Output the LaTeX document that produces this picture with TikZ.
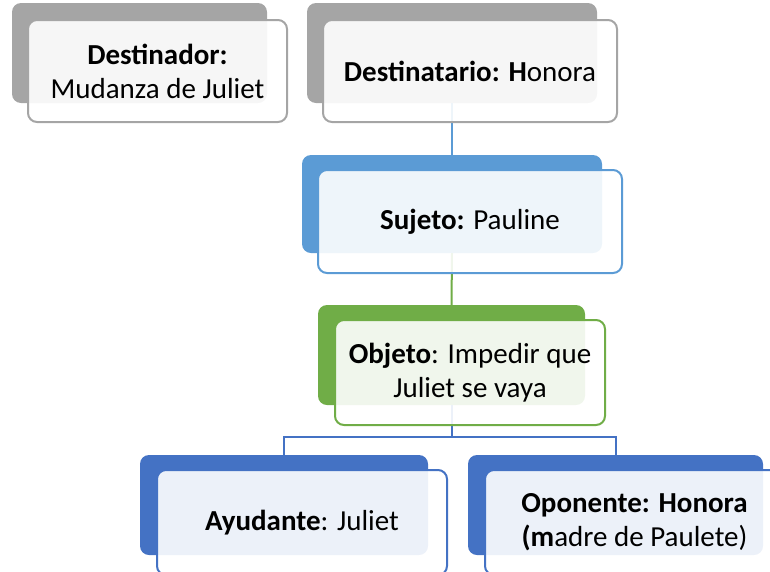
\documentclass[tikz,border=0pt]{standalone}
\usepackage{fontspec}
\setmainfont{Carlito}
\definecolor{cgray}{HTML}{A5A5A5}
\definecolor{cltblue}{HTML}{5B9BD5}
\definecolor{cgreen}{HTML}{70AD47}
\definecolor{cblue}{HTML}{4472C4}
\tikzset{
  backbox/.style={rectangle, rounded corners=9pt, inner sep=0pt, fill=#1},
  frontbox/.style={rectangle, rounded corners=9pt, inner sep=0pt, draw=#1, line width=2pt,
     fill=white, fill opacity=0.9, text opacity=1, align=center,
     font=\fontsize{29}{34}\selectfont},
  conn/.style={line width=2pt, draw=#1}
}
\begin{document}
\begin{tikzpicture}[x=1pt,y=-1pt]
\useasboundingbox (0,0) rectangle (770,571);
\clip (0,0) rectangle (770,571);
% back boxes
\node[backbox=cgray, minimum width=255pt, minimum height=100pt] (b1) at (139.5,53) {};
\node[backbox=cgray, minimum width=290pt, minimum height=100pt] (b2) at (452,53) {};
\node[backbox=cltblue, minimum width=300pt, minimum height=98pt] (b3) at (452,204) {};
\node[backbox=cgreen, minimum width=267pt, minimum height=100pt] (b4) at (451.5,355) {};
\node[backbox=cblue, minimum width=288pt, minimum height=100pt] (b5) at (284,505) {};
\node[backbox=cblue, minimum width=295pt, minimum height=100pt] (b6) at (615.5,505) {};
% connectors
\coordinate (m) at (451.5,437);
\draw[conn=cltblue] (b2.south) -- (b3.north);
\draw[conn=cgreen] (b3.south) -- (b4.north);
\draw[conn=cblue] (b4.south) -- (m) -| (b5.north);
\draw[conn=cblue] (m) -| (b6.north);
% front boxes
\node[frontbox=cgray, minimum width=259pt, minimum height=102pt] (f1) at (157.5,71) {\textbf{Destinador:}\\Mudanza de Juliet};
\node[frontbox=cgray, minimum width=294pt, minimum height=102pt] (f2) at (470,71) {\textbf{Destinatario: H}onora};
\node[frontbox=cltblue, minimum width=304pt, minimum height=103pt] (f3) at (470,221.5) {\textbf{Sujeto:} Pauline};
\node[frontbox=cgreen, minimum width=270pt, minimum height=105pt] (f4) at (470,372.5) {\textbf{Objeto}: Impedir que\\Juliet se vaya};
\node[frontbox=cblue, minimum width=290pt, minimum height=105pt] (f5) at (302,522.5) {\textbf{Ayudante}: Juliet};
\node[frontbox=cblue, minimum width=299pt, minimum height=105pt] (f6) at (634.5,522.5) {\textbf{Oponente: Honora}\\\textbf{(m}adre de Paulete)};
\end{tikzpicture}
\end{document}
